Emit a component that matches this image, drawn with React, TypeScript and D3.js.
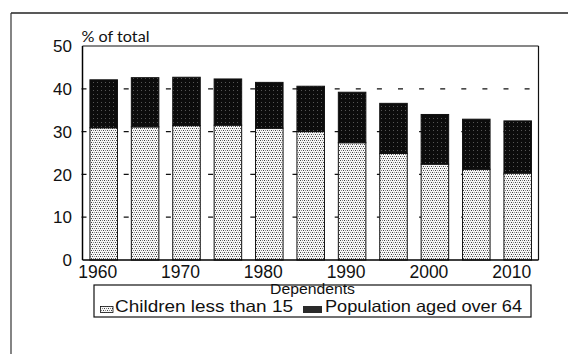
import React from "react";
import * as d3 from "d3";

const years = [1960, 1965, 1970, 1975, 1980, 1985, 1990, 1995, 2000, 2005, 2010];
const children = [30.9, 31.1, 31.4, 31.5, 30.8, 30.0, 27.4, 24.9, 22.4, 21.2, 20.3];
const elderly = [11.2, 11.5, 11.3, 10.8, 10.7, 10.6, 11.8, 11.7, 11.6, 11.7, 12.2];
const xTickYears = [1960, 1970, 1980, 1990, 2000, 2010];
const yTicks = [0, 10, 20, 30, 40, 50];
const gridValues = [10, 20, 30, 40];
const seriesKeys = ["children", "elderly"];
const seriesLabels = ["Children less than 15", "Population aged over 64"];
const yTitle = "% of total";
const legendTitle = "Dependents";

const W = 568;
const H = 354;
const plot = { left: 82.5, right: 538.5, top: 46, bottom: 260 };

export default function App() {
  const rows = years.map((y, i) => ({ year: y, children: children[i], elderly: elderly[i] }));
  const stack = d3.stack<any>().keys(seriesKeys)(rows);

  const x = d3
    .scaleBand<number>()
    .domain(years)
    .range([83, 538.4])
    .paddingInner(0.335)
    .paddingOuter(0.1675);
  const y = d3.scaleLinear().domain([0, 50]).range([plot.bottom, plot.top]);
  const font = "'Liberation Sans', Arial, sans-serif";

  return (
    <svg width={W} height={H} style={{ position: "absolute", left: 0, top: 0, background: "#fff" }}>
      <defs>
        <pattern id="dots" width="4" height="4" patternUnits="userSpaceOnUse">
          <rect width="4" height="4" fill="#f6f6f6" />
          <rect x="0" y="0" width="1" height="1" fill="#444" />
          <rect x="2" y="0" width="1" height="1" fill="#888" />
          <rect x="1" y="2" width="1" height="1" fill="#888" />
          <rect x="3" y="2" width="1" height="1" fill="#444" />
        </pattern>
        <pattern id="dark" width="4" height="4" patternUnits="userSpaceOnUse">
          <rect width="4" height="4" fill="#0c0c0c" />
          <rect x="1" y="2" width="1" height="1" fill="#555" />
        </pattern>
      </defs>

      {/* outer frame */}
      <line x1={11} y1={13} x2={W} y2={13} stroke="#222" strokeWidth={1.5} />
      <line x1={11} y1={13} x2={11} y2={H} stroke="#333" strokeWidth={1.2} />

      {/* dashed gridlines */}
      {gridValues.map((v) => (
        <line
          key={v}
          x1={81.5}
          x2={plot.right - 2}
          y1={y(v)}
          y2={y(v)}
          stroke="#111"
          strokeWidth={1.2}
          strokeDasharray="5 16.1"
        />
      ))}

      {/* plot frame */}
      <line x1={plot.left} y1={plot.top} x2={plot.right} y2={plot.top} stroke="#111" strokeWidth={1.2} />
      <line x1={plot.right} y1={plot.top} x2={plot.right} y2={plot.bottom} stroke="#111" strokeWidth={1.2} />

      {/* bars */}
      {stack.map((s, si) => (
        <g key={s.key}>
          {s.map((d: any, i: number) => (
            <rect
              key={i}
              x={x(years[i])!}
              width={x.bandwidth()}
              y={y(d[1])}
              height={y(d[0]) - y(d[1])}
              fill={si === 0 ? "url(#dots)" : "url(#dark)"}
              stroke="#111"
              strokeWidth={1}
            />
          ))}
        </g>
      ))}

      {/* axes */}
      <line x1={plot.left} y1={plot.top} x2={plot.left} y2={plot.bottom} stroke="#000" strokeWidth={1.5} />
      <line x1={plot.left} y1={plot.bottom} x2={plot.right} y2={plot.bottom} stroke="#000" strokeWidth={1.5} />

      {yTicks.map((t) => (
        <text
          key={t}
          x={72}
          y={y(t)}
          dy="0.36em"
          textAnchor="end"
          fontFamily={font}
          fontSize={17}
          fill="#111"
        >
          {t}
        </text>
      ))}
      <text x={81.5} y={41.5} fontFamily="Lato, 'Open Sans', sans-serif" fontSize={14.5} fill="#111" textLength={68} lengthAdjust="spacingAndGlyphs">
        {yTitle}
      </text>

      {xTickYears.map((t) => (
        <text
          key={t}
          x={x(t)! + x.bandwidth() / 2 - 6}
          y={278}
          textAnchor="middle"
          fontFamily={font}
          fontSize={17.5}
          fill="#111"
        >
          {t}
        </text>
      ))}

      {/* legend */}
      <rect x={94} y={285} width={437} height={32} fill="#fff" stroke="#111" strokeWidth={1.2} />
      <text x={312.5} y={293.5} textAnchor="middle" fontFamily={font} fontSize={14} fill="#111" textLength={85} lengthAdjust="spacingAndGlyphs">
        {legendTitle}
      </text>
      <rect x={100.5} y={306.5} width={12.5} height={6} fill="url(#dots)" stroke="#111" strokeWidth={0.8} />
      <text x={115} y={311.5} fontFamily={font} fontSize={16.5} fill="#111" textLength={178} lengthAdjust="spacingAndGlyphs">
        {seriesLabels[0]}
      </text>
      <rect x={303} y={306} width={19} height={7} fill="#2a2a2a" />
      <text x={325} y={311.5} fontFamily={font} fontSize={16.5} fill="#111" textLength={197} lengthAdjust="spacingAndGlyphs">
        {seriesLabels[1]}
      </text>
    </svg>
  );
}
